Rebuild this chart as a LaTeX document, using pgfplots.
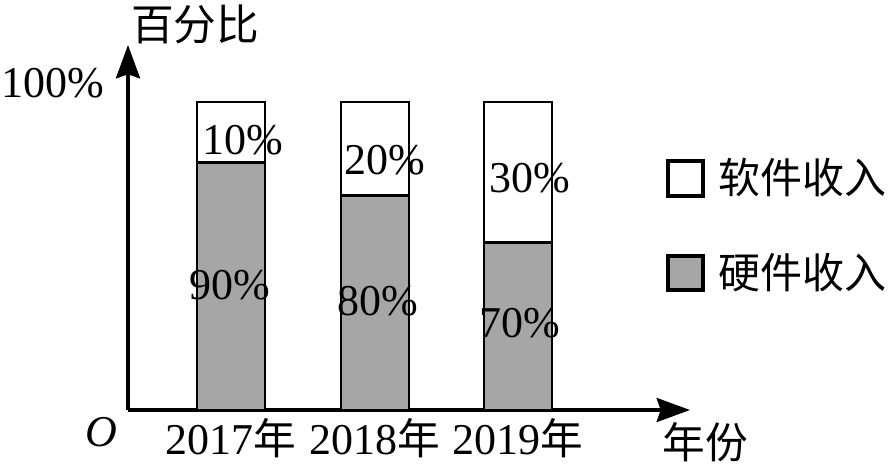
\documentclass[border=0pt]{standalone}
\usepackage{pgfplots}
\pgfplotsset{compat=1.18}
\usetikzlibrary{arrows.meta}
\usepackage{fontspec}
\setmainfont{Liberation Serif}
\newfontfamily\cjk{Noto Sans CJK SC}
\definecolor{bargray}{RGB}{166,166,166}
\begin{document}
\begin{tikzpicture}[x=0.75pt,y=-0.75pt,every node/.style={font=\fontsize{33}{40}\selectfont}]
\useasboundingbox (0,0) rectangle (891,465);
\begin{axis}[
  at={(96pt,-307.5pt)}, anchor=origin,
  scale only axis, width=421.5pt, height=273.75pt,
  xmin=0, xmax=562, ymin=0, ymax=118.5,
  axis lines=left,
  axis line style={line width=2.5pt},
  x axis line style={-{Stealth[length=25pt,width=18pt,inset=3pt]}},
  y axis line style={-{Stealth[length=25pt,width=18pt,inset=3pt]}},
  ybar stacked, bar width=68,
  xtick={103,247,390},
  xticklabels={{2017{\cjk\fontsize{32}{40}\selectfont 年}},{2018{\cjk\fontsize{32}{40}\selectfont 年}},{2019{\cjk\fontsize{32}{40}\selectfont 年}}},
  major tick length=0pt,
  ytick=\empty,
  xticklabel style={font=\fontsize{33}{40}\selectfont, inner sep=0pt, yshift=-6pt},
  clip=false,
]
\addplot[fill=bargray, draw=black, line width=2.2pt] coordinates {(103,80.5) (247,69.5) (390,54.5)};
\addplot[fill=white, draw=black, line width=2.2pt] coordinates {(103,19.5) (247,30.5) (390,45.5)};
\end{axis}
% percentage labels
\node at (243,140) {10\%};
\node at (230,285) {90\%};
\node at (385,160) {20\%};
\node at (378,301) {80\%};
\node at (530,178) {30\%};
\node at (520,323) {70\%};
% axis texts
\node[anchor=east, inner sep=0pt] at (104,83) {100\%};
\node at (195,24) {\cjk\fontsize{32}{40}\selectfont 百分比};
\node at (101,432) {\textit{O}};
\node at (705,442) {\cjk\fontsize{32}{40}\selectfont 年份};
% legend
\draw[line width=2.4pt, fill=white] (668,161) rectangle (703,196);
\draw[line width=2.4pt, fill=bargray] (668,256) rectangle (703,290);
\node[anchor=west, inner sep=0pt] at (718,178) {\cjk\fontsize{31.5}{38}\selectfont 软件收入};
\node[anchor=west, inner sep=0pt] at (718,273) {\cjk\fontsize{31.5}{38}\selectfont 硬件收入};
\end{tikzpicture}
\end{document}
